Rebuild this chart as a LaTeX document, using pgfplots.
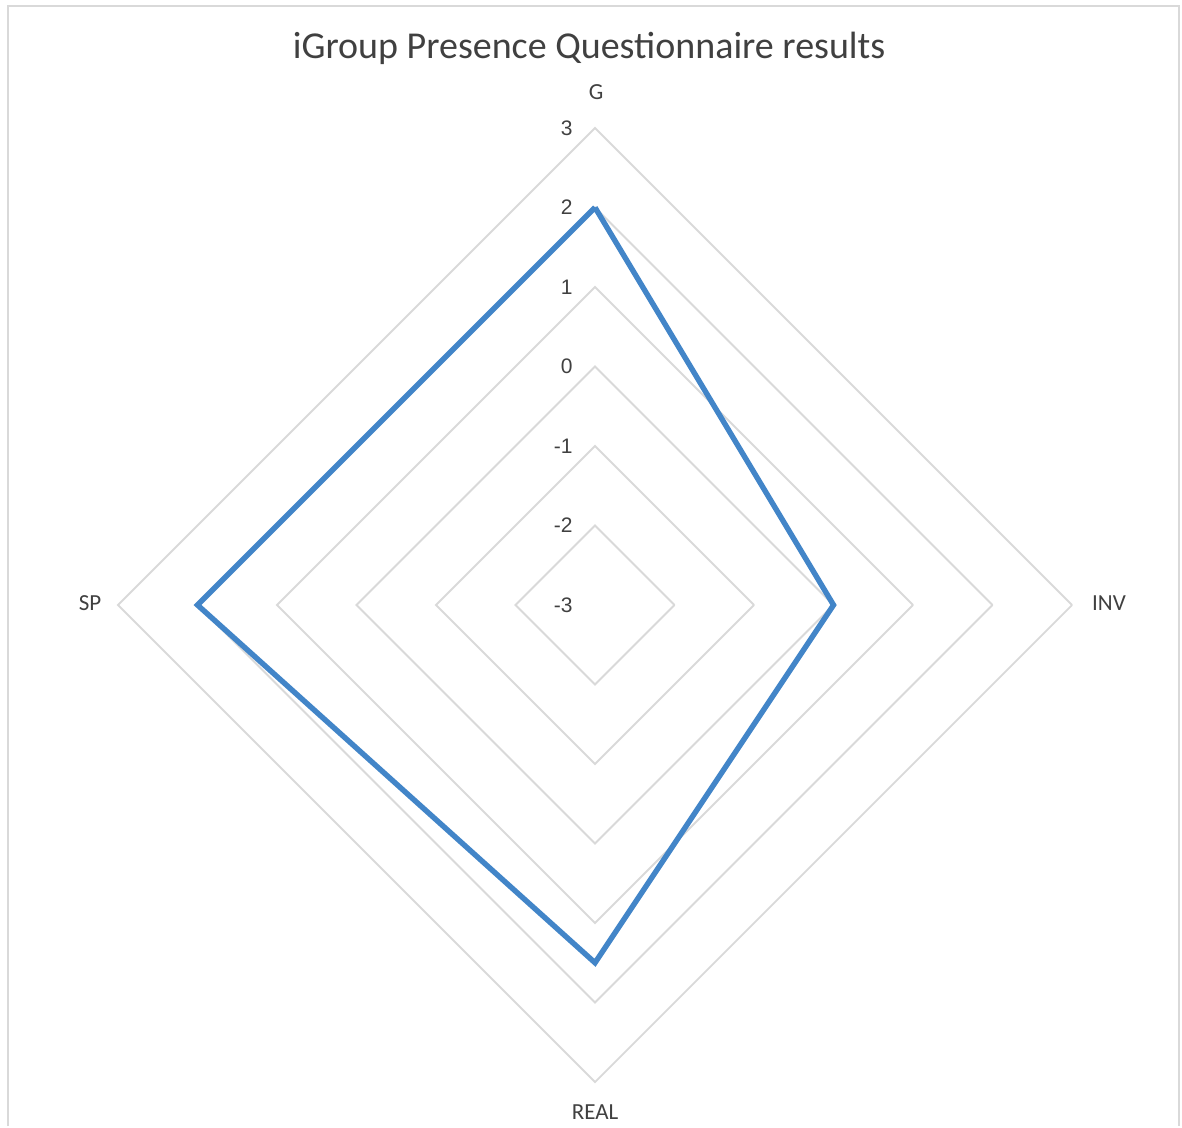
\documentclass[border=0pt]{standalone}
\usepackage{pgfplots}
\usepackage{pgfplotstable}
\pgfplotsset{compat=1.18}
\usepackage{fontspec}
\setmainfont{Carlito}
\newfontfamily\arialfont{Liberation Sans}

\definecolor{ringgray}{RGB}{217,217,217}
\definecolor{lineblue}{RGB}{66,133,200}
\definecolor{txt}{RGB}{64,64,64}

% angle (deg), score
\pgfplotstableread{
a   v
90  2
0   0
270 1.5
180 2
90  2
}\iptdata

\begin{document}
\begin{tikzpicture}
\begin{axis}[
    x=39.75pt, y=39.75pt,
    xmin=-7.4843, xmax=7.3836,
    ymin=-6.5535, ymax=7.6101,
    hide axis,
    clip=false,
]
% frame
\path (rel axis cs:0,0) rectangle (rel axis cs:1,1);
\draw[ringgray, line width=1.2pt] (axis cs:-7.3836,-6.5535) -- (axis cs:-7.3836,7.5346)
    -- (axis cs:7.3459,7.5346) -- (axis cs:7.3459,-6.5535);

% rings
\pgfplotsinvokeforeach{1,...,6}{
  \addplot[ringgray, line width=0.9pt, mark=none] coordinates {(#1,0)(0,#1)(-#1,0)(0,-#1)(#1,0)};
}

% data
\addplot[lineblue, line width=2.7pt, mark=none, line join=miter]
  table[x expr={(\thisrow{v}+3)*cos(\thisrow{a})}, y expr={(\thisrow{v}+3)*sin(\thisrow{a})}] {\iptdata};

% radial tick labels
\begin{scope}[every node/.style={anchor=east, font=\arialfont\fontsize{10.5}{12}\selectfont, text=txt, inner sep=0pt}]
\node at (axis cs:-0.277,0) {-3};
\node at (axis cs:-0.277,1) {-2};
\node at (axis cs:-0.277,2) {-1};
\node at (axis cs:-0.277,3) {0};
\node at (axis cs:-0.277,4) {1};
\node at (axis cs:-0.277,5) {2};
\node at (axis cs:-0.277,6) {3};
\end{scope}

% category labels
\begin{scope}[every node/.style={font=\fontsize{11.5}{13}\selectfont, text=txt, inner sep=0pt}]
\node at (axis cs:0.0126,6.453) {G};
\node at (axis cs:6.465,0.025) {INV};
\node at (axis cs:0,-6.377) {REAL};
\node at (axis cs:-6.352,0.025) {SP};
\end{scope}

% title
\node[font=\fontsize{19}{22}\selectfont, text=txt, inner sep=0pt] at (axis cs:-0.075,7.006) {iGroup Presence Questionnaire results};
\end{axis}
\end{tikzpicture}
\end{document}
